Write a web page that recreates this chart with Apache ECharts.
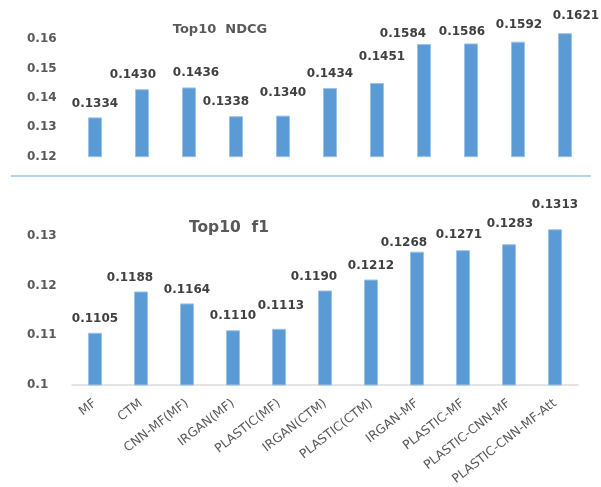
<!DOCTYPE html>
<html>
<head>
<meta charset="utf-8">
<script src="https://cdn.jsdelivr.net/npm/echarts@6/dist/echarts.min.js"></script>
<style>
html,body{margin:0;padding:0;background:#fff;}
#chart{width:601px;height:487px;}
</style>
</head>
<body>
<div id="chart"></div>
<script>
// ---- data ----
const categories = ['MF','CTM','CNN-MF(MF)','IRGAN(MF)','PLASTIC(MF)','IRGAN(CTM)','PLASTIC(CTM)','IRGAN-MF','PLASTIC-MF','PLASTIC-CNN-MF','PLASTIC-CNN-MF-Att'];
const ndcgValues = [0.1334, 0.1430, 0.1436, 0.1338, 0.1340, 0.1434, 0.1451, 0.1584, 0.1586, 0.1592, 0.1621];
const f1Values = [0.1105, 0.1188, 0.1164, 0.1110, 0.1113, 0.1190, 0.1212, 0.1268, 0.1271, 0.1283, 0.1313];
const ndcgTickLabels = ['0.12','0.13','0.14','0.15','0.16'];
const f1TickLabels = ['0.1','0.11','0.12','0.13'];
const ndcgTitle = 'Top10  NDCG';
const f1Title = 'Top10  f1';

// ---- styling (label nudges as in the original, not data) ----
const ndcgLabelShift = [[0,0],[-9,0],[7,-1],[-10,0],[0,-9],[0,0],[5,-12],[-21,4],[-9,2],[1,-3],[11,-3]];
const f1LabelShift = [[0,0],[-11,0],[0,0],[0,0],[2,-9],[-11,0],[0,0],[-13,5],[-4,-1],[1,-6],[0,-10]];

const FONT = 'DejaVu Sans';
const barColor = '#5b9bd5';

function tickFormatter(labels) {
  return function (v) {
    const s = String(parseFloat(v.toFixed(2)));
    return labels.indexOf(s) >= 0 ? s : '';
  };
}

function buildData(values, shifts) {
  return values.map((v, i) => ({
    value: v,
    label: { offset: shifts[i] }
  }));
}

const labelStyle = {
  show: true,
  position: 'top',
  distance: 8,
  fontFamily: FONT,
  fontWeight: 'bold',
  fontSize: 12,
  color: '#404040',
  formatter: p => p.value.toFixed(4)
};

const chart = echarts.init(document.getElementById('chart'), null, {renderer: 'canvas'});
chart.setOption({
  backgroundColor: '#ffffff',
  animation: false,
  grid: [
    {left: 71.5, right: 12.5, top: 10, height: 146.7, containLabel: false, outerBoundsMode: 'none'},
    {left: 72, right: 23, top: 186, height: 199, containLabel: false, outerBoundsMode: 'none'}
  ],
  xAxis: [
    {type: 'category', gridIndex: 0, data: categories, show: false},
    {
      type: 'category', gridIndex: 1, data: categories,
      axisLine: {show: true, lineStyle: {color: '#d9d9d9', width: 1.5}},
      axisTick: {show: false},
      axisLabel: {
        rotate: 38, interval: 0, margin: 17,
        fontFamily: FONT, fontSize: 12.5, color: '#595959'
      }
    }
  ],
  yAxis: [
    {
      type: 'value', gridIndex: 0, min: 0.12, max: 0.17, interval: 0.01,
      axisLine: {show: false}, axisTick: {show: false}, splitLine: {show: false},
      axisLabel: {
        align: 'left', margin: 44.5,
        fontFamily: FONT, fontWeight: 'bold', fontSize: 12, color: '#595959',
        formatter: tickFormatter(ndcgTickLabels)
      }
    },
    {
      type: 'value', gridIndex: 1, min: 0.10, max: 0.14, interval: 0.01,
      axisLine: {show: false}, axisTick: {show: false}, splitLine: {show: false},
      axisLabel: {
        align: 'left', margin: 45,
        fontFamily: FONT, fontWeight: 'bold', fontSize: 12, color: '#595959',
        formatter: tickFormatter(f1TickLabels)
      }
    }
  ],
  series: [
    {
      type: 'bar', xAxisIndex: 0, yAxisIndex: 0,
      data: buildData(ndcgValues, ndcgLabelShift),
      barWidth: 14,
      itemStyle: {color: barColor, borderColor: '#9cc2e8', borderWidth: 1},
      label: labelStyle
    },
    {
      type: 'bar', xAxisIndex: 1, yAxisIndex: 1,
      data: buildData(f1Values, f1LabelShift),
      barWidth: 14,
      itemStyle: {color: barColor, borderColor: '#9cc2e8', borderWidth: 1},
      label: labelStyle
    }
  ],
  graphic: [
    {
      type: 'line', shape: {x1: 11, y1: 176, x2: 591, y2: 176},
      style: {stroke: '#9dc3e6', lineWidth: 1.5}
    },
    {
      type: 'text', x: 220, y: 30,
      style: {text: ndcgTitle, font: 'bold 13px "DejaVu Sans"', fill: '#595959', textAlign: 'center', textVerticalAlign: 'middle'}
    },
    {
      type: 'text', x: 229, y: 228,
      style: {text: f1Title, font: 'bold 15.5px "DejaVu Sans"', fill: '#595959', textAlign: 'center', textVerticalAlign: 'middle'}
    }
  ]
});
</script>
</body>
</html>
